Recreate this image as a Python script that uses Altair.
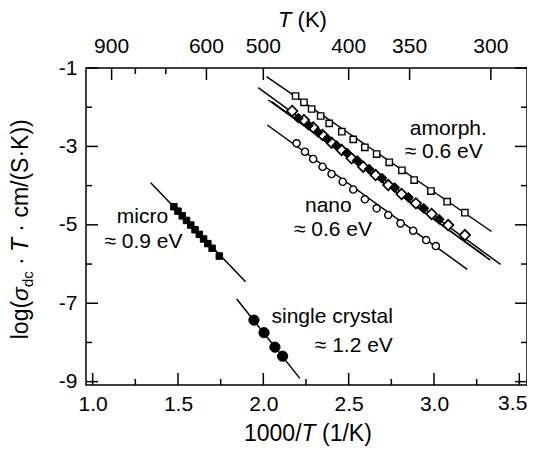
import altair as alt
import pandas as pd

FONT = "Liberation Sans"

# ---------------- data ----------------
# amorphous: open squares
amorph_x = [2.189, 2.238, 2.283, 2.336, 2.386, 2.460, 2.527, 2.595, 2.664, 2.738, 2.812, 2.884, 2.982, 3.077, 3.181]
amorph_y = [-1.714, -1.875, -2.046, -2.224, -2.412, -2.625, -2.820, -3.023, -3.194, -3.406, -3.610, -3.857, -4.138, -4.410, -4.690]

# nano, open diamonds
odia_x = [2.169, 2.238, 2.292, 2.347, 2.400, 2.459, 2.517, 2.585, 2.658, 2.732, 2.810, 2.894, 2.986, 3.083, 3.181]
odia_y = [-2.097, -2.327, -2.513, -2.709, -2.906, -3.092, -3.304, -3.518, -3.730, -3.985, -4.214, -4.452, -4.724, -5.005, -5.260]

# nano, filled diamonds
fdia_x = [2.205, 2.265, 2.320, 2.375, 2.430, 2.490, 2.550, 2.620, 2.695, 2.770, 2.850, 2.940, 3.030]
fdia_y = [-2.28, -2.46, -2.64, -2.81, -2.98, -3.17, -3.36, -3.58, -3.81, -4.05, -4.30, -4.58, -4.86]

# nano, open circles
circ_x = [2.195, 2.244, 2.292, 2.347, 2.400, 2.465, 2.527, 2.595, 2.664, 2.732, 2.804, 2.878, 2.954, 3.011]
circ_y = [-2.921, -3.135, -3.321, -3.518, -3.704, -3.901, -4.099, -4.349, -4.579, -4.750, -4.962, -5.150, -5.388, -5.541]

# micro: filled squares
micro_x = [1.476, 1.500, 1.525, 1.550, 1.575, 1.600, 1.625, 1.650, 1.675, 1.700, 1.742]
micro_y = [-4.538, -4.651, -4.770, -4.888, -5.006, -5.125, -5.243, -5.361, -5.479, -5.598, -5.796]

# single crystal: filled circles
single_x = [1.945, 2.004, 2.068, 2.113]
single_y = [-7.43, -7.75, -8.12, -8.35]

# fitted straight lines (end points)
fit_names = ["amorph", "nanoA", "nanoB", "nanoC", "circ", "micro", "single"]
fit_x0 = [2.019, 1.970, 2.029, 2.049, 2.023, 1.340, 1.844]
fit_y0 = [-1.22, -1.50, -1.816, -1.86, -2.454, -3.926, -6.893]
fit_x1 = [3.337, 3.390, 3.300, 3.330, 3.195, 1.896, 2.214]
fit_y1 = [-5.17, -6.01, -5.80, -5.90, -6.135, -6.452, -8.916]

# labels
lab_text = ["amorph.", "\u2248 0.6 eV", "nano", "\u2248 0.6 eV", "micro", "\u2248 0.9 eV", "single crystal", "\u2248 1.2 eV"]
lab_x = [3.310, 3.286, 2.381, 2.408, 1.292, 1.298, 2.759, 2.759]
lab_y = [-2.556, -3.143, -4.52, -5.133, -4.801, -5.439, -7.352, -8.09]
lab_align = ["right", "right", "center", "center", "center", "center", "right", "right"]

# axes
x_major = [1.0, 1.5, 2.0, 2.5, 3.0, 3.5]
x_minor = [1.25, 1.75, 2.25, 2.75, 3.25]
y_major = [-1, -3, -5, -7, -9]
y_minor = [-2, -4, -6, -8]
t_major = [900, 600, 500, 400, 350, 300]
t_minor = [800, 700]

W, H = 441, 317
XDOM = [0.961, 3.545]
YDOM = [-9.085, -1.0]
LPAD = 8

xs = alt.Scale(domain=XDOM, nice=False, zero=False)
ys = alt.Scale(domain=YDOM, nice=False, zero=False)

# the last bottom label sits at the page edge: it is drawn separately, pulled inside
AX = alt.Axis(values=x_major[:-1], labelExpr="format(datum.value, '.1f')", ticks=False, domain=False,
              grid=False, labelFont=FONT, labelFontSize=21, labelPadding=LPAD, labelColor="black",
              title=None, labelFlush=False)
AY = alt.Axis(values=y_major, labelExpr="toString(datum.value)", ticks=False, domain=False,
              grid=False, labelFont=FONT, labelFontSize=21, labelPadding=9, labelColor="black",
              title=None, labelFlush=False)

def X(f):
    return alt.X(f + ":Q", scale=xs, axis=AX, title=None)

def Y(f):
    return alt.Y(f + ":Q", scale=ys, axis=AY, title=None)

def pts(xv, yv):
    return pd.DataFrame({"x": xv, "y": yv})

layers = []

# fit lines
fit_rows = []
for n, a, b, c, d in zip(fit_names, fit_x0, fit_y0, fit_x1, fit_y1):
    fit_rows.append({"s": n, "x": a, "y": b, "o": 0})
    fit_rows.append({"s": n, "x": c, "y": d, "o": 1})
fits = pd.DataFrame(fit_rows)
layers.append(alt.Chart(fits).mark_line(color="black", strokeWidth=1.5).encode(
    x=X("x"), y=Y("y"), detail="s:N", order="o:Q"))

# points
def pt_layer(xv, yv, shape, fill, size, sw):
    return alt.Chart(pts(xv, yv)).mark_point(
        shape=shape, filled=True, fill=fill, stroke="black", strokeWidth=sw, size=size, opacity=1
    ).encode(x=X("x"), y=Y("y"))

layers.append(pt_layer(amorph_x, amorph_y, "square", "white", 40, 1.4))
layers.append(pt_layer(odia_x, odia_y, "diamond", "white", 110, 1.7))
layers.append(pt_layer(fdia_x, fdia_y, "diamond", "black", 100, 1))
layers.append(pt_layer(circ_x, circ_y, "circle", "white", 52, 1.4))
layers.append(pt_layer(micro_x, micro_y, "square", "black", 42, 1))
layers.append(pt_layer(single_x, single_y, "circle", "black", 105, 1))

# labels in data coordinates
labs = pd.DataFrame({"t": lab_text, "x": lab_x, "y": lab_y, "a": lab_align})
for al in ["left", "center", "right"]:
    sub = labs[labs["a"] == al]
    if len(sub):
        layers.append(alt.Chart(sub).mark_text(font=FONT, fontSize=21, align=al, baseline="middle",
                                               color="black").encode(x=X("x"), y=Y("y"), text="t:N"))

# ticks (inward)
def tick_df(vals):
    return pd.DataFrame({"v": vals})

for vals, L in [(x_major, 12), (x_minor, 6)]:
    layers.append(alt.Chart(tick_df(vals)).mark_rule(color="black", strokeWidth=1.5).encode(
        x=X("v"), y=alt.value(H), y2=alt.value(H - L)))
for vals, L in [(y_major, 12), (y_minor, 6)]:
    layers.append(alt.Chart(tick_df(vals)).mark_rule(color="black", strokeWidth=1.5).encode(
        y=Y("v"), x=alt.value(0), x2=alt.value(L)))
    layers.append(alt.Chart(tick_df(vals)).mark_rule(color="black", strokeWidth=1.5).encode(
        y=Y("v"), x=alt.value(W), x2=alt.value(W - L)))
for vals, L in [(t_major, 12), (t_minor, 6)]:
    layers.append(alt.Chart(pd.DataFrame({"T": vals})).transform_calculate(v="1000 / datum.T")
                  .mark_rule(color="black", strokeWidth=1.5).encode(
        x=X("v"), y=alt.value(0), y2=alt.value(L)))
# last bottom label (kept inside the page)
layers.append(alt.Chart(tick_df(x_major[-1:])).transform_calculate(lbl="format(datum.v, '.1f')")
              .mark_text(font=FONT, fontSize=21, align="right", baseline="top", color="black", dx=8)
              .encode(x=X("v"), y=alt.value(H + LPAD), text="lbl:N"))
# top tick labels
layers.append(alt.Chart(pd.DataFrame({"T": t_major})).transform_calculate(v="1000 / datum.T")
              .mark_text(font=FONT, fontSize=21, align="center", baseline="middle", color="black")
              .encode(x=X("v"), y=alt.value(-21), text="T:N"))

# axis titles (mixed styles built from segments)
WID = {" ": 278, "(": 333, ")": 333, "/": 278, ".": 278, "\u00b7": 278, "l": 222, "o": 556, "g": 556,
       "c": 500, "m": 833, "S": 667, "K": 667, "T": 611, "d": 556, "\u03c3": 600, "1": 556, "0": 556}

def tw(s, size):
    return sum(WID.get(ch, 556) for ch in s) * size / 1000.0

one = pd.DataFrame({"a": [0]})

def seg(text, px, py, size=23, italic=False, angle=None):
    kw = dict(text=text, font=FONT, fontSize=size, align="left", baseline="alphabetic", color="black")
    if italic:
        kw["fontStyle"] = "italic"
    if angle is not None:
        kw["angle"] = angle
    return alt.Chart(one).mark_text(**kw).encode(x=alt.value(px), y=alt.value(py))

TS = 23
# bottom: 1000/T (1/K)   (leading spaces are collapsed in SVG, so they become offsets)
bx, by = 158, 373
cx = bx
for s, it in [("1000/", False), ("T", True), (" (1/K)", False)]:
    lead = len(s) - len(s.lstrip(" "))
    layers.append(seg(s.lstrip(" "), cx + tw(" " * lead, TS), by, TS, it))
    cx += tw(s, TS)
# top: T (K)
TT = 22
tx, ty = 192, -41
layers.append(seg("T", tx, ty, TT, True))
layers.append(seg("(K)", tx + tw("T ", TT), ty, TT, False))

# left: log(σ_dc · T · cm/(S·K))
ysegs = [("log(", TS, False, 0), ("\u03c3", TS, True, 0), ("dc", 15, False, 5),
         (" \u00b7 ", TS, False, 0), ("T", TS, True, 0), (" \u00b7 cm/(S\u00b7K))", TS, False, 0)]
total = sum(tw(s, sz) for s, sz, it, off in ysegs)
cy = 162.5 + total / 2
bxl = -58
for s, sz, it, off in ysegs:
    lead = len(s) - len(s.lstrip(" "))
    layers.append(seg(s.strip(" "), bxl + off, cy - tw(" " * lead, sz), sz, it, angle=270))
    cy -= tw(s, sz)

chart = alt.layer(*layers).properties(
    width=W, height=H,
    padding={"left": 78, "top": 60, "right": 0, "bottom": 62},
    autosize=alt.AutoSizeParams(type="none"),
).configure_view(stroke="black", strokeWidth=1.5)

chart.save("out.html", embed_options={"renderer": "svg", "actions": False})
